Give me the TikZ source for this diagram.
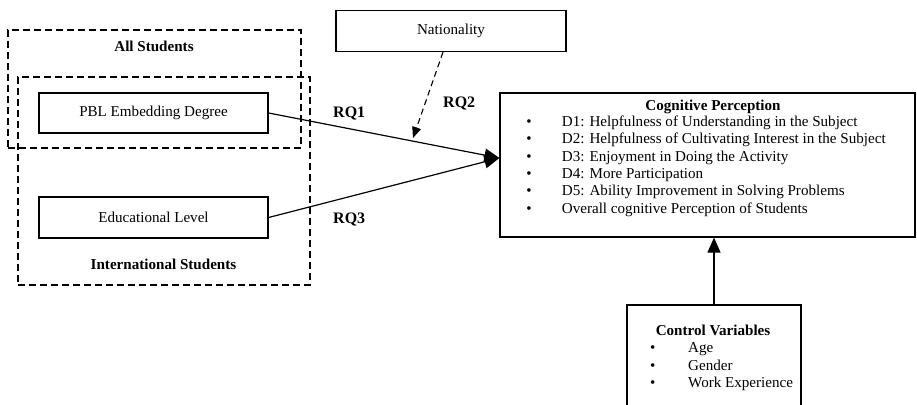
\documentclass[tikz,border=0pt]{standalone}
\usepackage{fontspec}
\setmainfont{Liberation Serif}
\usetikzlibrary{arrows.meta}
\begin{document}
\begin{tikzpicture}[x=1pt,y=-1pt,
  font=\fontsize{15.1}{17.4}\selectfont,
  box/.style={draw, line width=1.2pt, inner sep=0pt},
  grp/.style={draw, line width=1.1pt, dash pattern=on 7pt off 4pt, inner sep=0pt},
  lbl/.style={inner sep=0pt, anchor=base},
  bld/.style={lbl, font=\fontsize{15.1}{17.4}\selectfont\bfseries},
  rq/.style={inner sep=0pt, anchor=base west, font=\fontsize{16}{19}\selectfont\bfseries},
  arr/.style={line width=1.2pt, -{Triangle[length=15pt,width=13pt]}},
  darr/.style={line width=1.1pt, dash pattern=on 6pt off 4pt, -{Triangle[length=11pt,width=9pt]}},
  item/.style={inner sep=0pt, anchor=base west}]
\useasboundingbox (0,0) rectangle (917,404);
\fill[white] (0,0) rectangle (917,404);

% group boxes
\node[grp, minimum width=293pt, minimum height=118pt] (all) at (154.5,89) {};
\node[grp, minimum width=292pt, minimum height=208pt] (intl) at (164,181) {};
\node[bld] (alllbl) at (154,51.7) {All Students};
\node[bld] (intllbl) at (163.5,269) {International Students};

% variable boxes
\node[box, minimum width=229pt, minimum height=40pt] (pbl) at (153.5,113) {PBL Embedding Degree};
\node[box, minimum width=229pt, minimum height=41pt] (edu) at (153.5,217.5) {Educational Level};
\node[box, minimum width=230pt, minimum height=41pt] (nat) at (451,31) {Nationality};

% cognitive perception
\node[box, minimum width=415pt, minimum height=144pt] (cog) at (707.5,165) {};
\node[bld] (cogtitle) at (713,110.7) {Cognitive Perception};
\foreach \t [count=\i] in {D1: Helpfulness of Understanding in the Subject,
  D2: Helpfulness of Cultivating Interest in the Subject,
  D3: Enjoyment in Doing the Activity,
  D4: More Participation,
  D5: Ability Improvement in Solving Problems,
  Overall cognitive Perception of Students}{
  \node[lbl] (cogb\i) at (529,109.2+17.3*\i) {•};
  \node[item] (cogi\i) at (561.7,109.2+17.3*\i) {\t};
}

% control variables (bottom edge cut off)
\begin{scope}
\clip (0,0) rectangle (917,404);
\node[box, minimum width=174pt, minimum height=120pt] (ctrl) at (714,365) {};
\end{scope}
\node[bld] (ctrltitle) at (713,335) {Control Variables};
\foreach \t [count=\i] in {Age, Gender, Work Experience}{
  \node[lbl] (ctrlb\i) at (652.7,335.2+17.5*\i) {•};
  \node[item] (ctrli\i) at (688,335.2+17.5*\i) {\t};
}

% connectors
\coordinate (tip) at ([yshift=7pt]cog.west);
\draw[arr] (pbl.east) -- (tip);
\draw[arr] (edu.east) -- (tip);
\coordinate (natout) at ([xshift=-8pt]nat.south);
\coordinate (rqtwoend) at (413,138);
\draw[darr] (natout) -- (rqtwoend);
\draw[arr] (ctrl.north) -- (cog.south -| ctrl.north);

% RQ labels
\node[rq] (rq1) at (333,117) {RQ1};
\node[rq] (rq2) at (443,107) {RQ2};
\node[rq] (rq3) at (333,223) {RQ3};
\end{tikzpicture}
\end{document}
